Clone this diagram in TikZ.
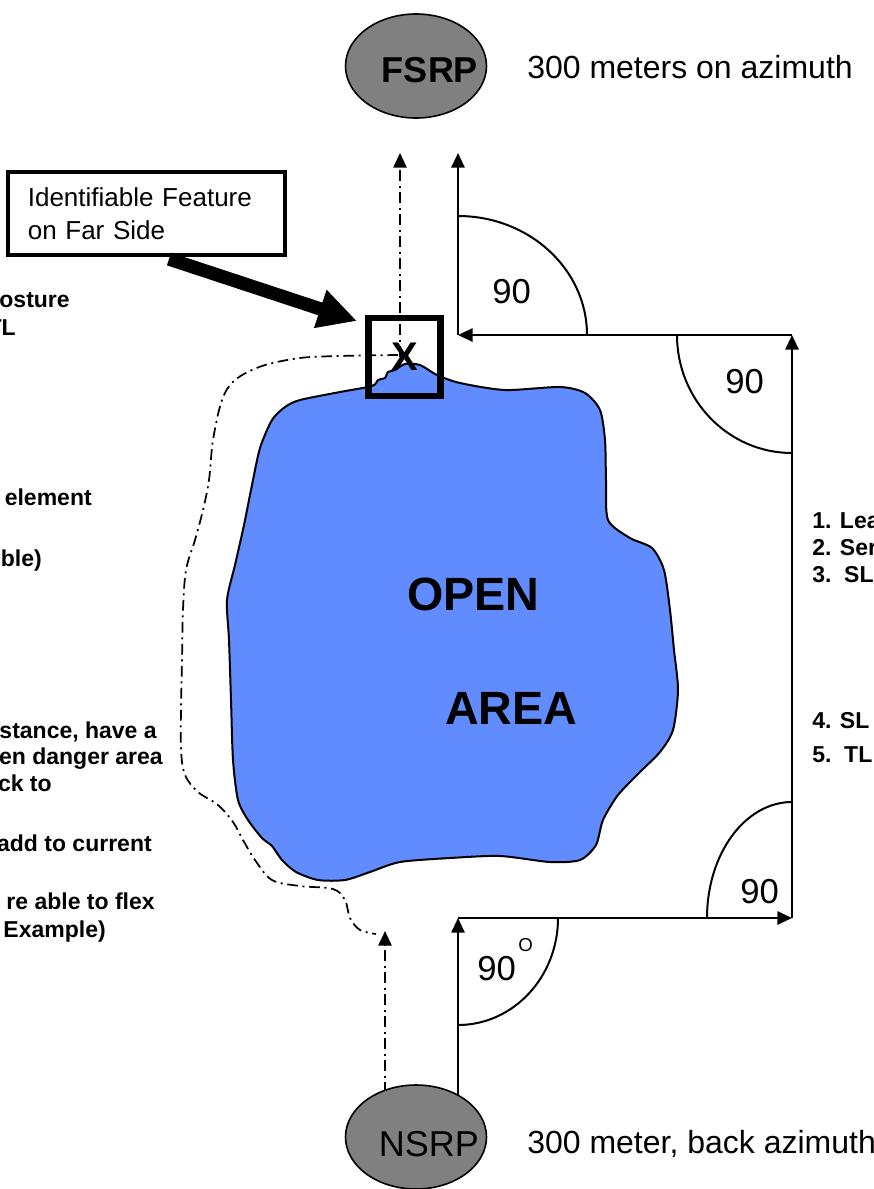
\documentclass[tikz,border=0pt]{standalone}
\usepackage{fontspec}
\setmainfont{Liberation Sans}
\usetikzlibrary{arrows.meta,shapes.geometric,backgrounds}
\definecolor{areablue}{RGB}{96,140,255}
\definecolor{srpgray}{RGB}{128,128,128}
\begin{document}
\begin{tikzpicture}[x=0.75pt,y=-0.75pt,
  line/.style={line width=1.5pt},
  tip/.style={-{Triangle[length=11pt,width=10pt]}},
  dashdot/.style={line width=1.3pt, dash pattern=on 8pt off 3.5pt on 1.5pt off 3.5pt},
  srp/.style={ellipse, draw, line width=1.2pt, fill=srpgray, minimum width=105.75pt, minimum height=78pt, inner sep=0pt},
  lbl/.style={font=\fontsize{24}{28}\selectfont, anchor=base west, inner sep=0pt},
  ninety/.style={font=\fontsize{26}{30}\selectfont, anchor=base west, inner sep=0pt},
  sidel/.style={font=\fontsize{17.25}{20}\selectfont\bfseries, anchor=base east, inner sep=0pt},
  sider/.style={font=\fontsize{17.25}{20}\selectfont\bfseries, anchor=base west, inner sep=0pt},
  big/.style={font=\fontsize{35}{40}\selectfont\bfseries, anchor=base west, inner sep=0pt}
]
\useasboundingbox (0,0) rectangle (874,1189);

% corners and free ends
\coordinate (c1) at (458,335);
\coordinate (c2) at (792,335);
\coordinate (c3) at (792,918);
\coordinate (c4) at (458,918);
\coordinate (soltop) at (458,153);
\coordinate (ddtop) at (400,153);
\coordinate (ddbot) at (385,931);

% open area
\path[fill=areablue, draw, line width=1.5pt] plot[smooth cycle, tension=0.45] coordinates {
 (300,400) (340,392) (372,386) (378,380) (385,378) (388,372) (395,370) (405,364)
 (420,365) (437,375) (460,383) (505,390) (560,387) (585,393) (600,410) (605,440)
 (606,480) (608,520) (630,538) (652,548) (664,570) (670,610) (674,650) (678,690)
 (673,730) (660,752) (640,772) (618,795) (603,820) (596,845) (580,860) (550,862)
 (500,856) (450,858) (400,862) (370,872) (345,880) (318,880) (296,872) (282,860)
 (272,846) (262,838) (248,820) (238,800) (233,760) (231,700) (229,640) (227,600)
 (235,565) (244,525) (252,485) (260,448) (272,420) (285,407)};
\node[big] (open) at (407,610) {OPEN};
\node[big] (area) at (445,724) {AREA};

% dash-dot route round the area
\draw[dashdot] plot[smooth, tension=0.55] coordinates {
 (398,355) (340,356) (300,358) (262,366) (235,380) (222,400) (213,440) (209,480)
 (203,510) (195,540) (186,570) (183,610) (182,660) (181,710) (181,750) (185,775)
 (198,792) (218,805) (233,822) (243,840) (255,860) (272,880) (300,886) (333,889)
 (345,900) (350,918) (360,930) (376,934)};

% feature box
\node[draw, line width=3pt, minimum width=207.75pt, minimum height=62.25pt,
      text width=178pt, inner xsep=15pt, align=left,
      font=\fontsize{19.5}{24.75}\selectfont] (ifbox) at (146.5,213.5)
      {Identifiable Feature\\on Far Side};
\coordinate (thickstart) at (169,259);
\coordinate (thickend) at (357,321);
\node[draw, line width=5pt, minimum width=54pt, minimum height=58.5pt, inner sep=0pt,
      font=\fontsize{30}{32}\selectfont\bfseries] (xbox) at (404.5,357) {X};
\draw[line width=10pt, -{Triangle[length=29pt,width=28pt]}] (thickstart) -- (thickend);

% SRP ellipses
\node[srp] (fsrp) at (416,66) {};
\node[font=\fontsize{27}{30}\selectfont\bfseries, anchor=base, inner sep=0pt] (fsrpt) at (430,82) {FSRP};
\node[lbl] (fsrpl) at (527,78) {300 meters on azimuth};
\node[srp] (nsrp) at (416,1137) {};
\node[font=\fontsize{27}{30}\selectfont, anchor=base, inner sep=0pt] (nsrpt) at (429,1156) {NSRP};
\node[lbl] (nsrpl) at (527,1153) {300 meter, back azimuth};

% route lines
\begin{scope}[on background layer]
\draw[line,tip] (nsrp.center -| c4) -- (c4);
\draw[dashdot,tip] (nsrp.center -| ddbot) -- (ddbot);
\end{scope}
\draw[dashdot,tip] (ddtop |- xbox.center) -- (ddtop);
\draw[line,tip] (c1) -- (soltop);
\draw[line,tip] (c2) -- (c1);
\draw[line,tip] (c3) -- (c2);
\draw[line,tip] (c4) -- (c3);

% angle arcs
\draw[line] (587,335) arc[start angle=0, end angle=-90, x radius=129, y radius=119];
\draw[line] (677,335) arc[start angle=180, end angle=90, x radius=115, y radius=118];
\draw[line] (707,918) arc[start angle=180, end angle=270, x radius=85, y radius=116];
\draw[line] (558,918) arc[start angle=0, end angle=90, x radius=100, y radius=107];
\node[ninety] (a1) at (492,303) {90};
\node[ninety] (a2) at (725,393) {90};
\node[ninety] (a3) at (740,903) {90};
\node[ninety] (a4) at (477,980) {90};
\node[font=\fontsize{14}{15}\selectfont, anchor=base west, inner sep=0pt] (deg) at (518,951) {O};

% cut-off side notes
\node[sidel] (l1) at (70,307) {osture};
\node[sidel] (l2) at (16,335) {TL};
\node[sidel] (l3) at (92,505) {element};
\node[sidel] (l4) at (42,566) {ble)};
\node[sidel] (l5) at (157,738) {stance, have a};
\node[sidel] (l6) at (163,764) {en danger area};
\node[sidel] (l7) at (52,791) {ck to};
\node[sidel] (l8) at (152,851) {add to current};
\node[sidel] (l9) at (155,909) {re able to flex};
\node[sidel] (l10) at (106,937) {Example)};
\node[sider] (r1) at (812,528) {1. Lea};
\node[sider] (r2) at (812,555) {2. Ser};
\node[sider] (r3) at (812,582) {3.\ \ SL};
\node[sider] (r4) at (812,728) {4. SL};
\node[sider] (r5) at (812,762) {5.\ \ TL};
\end{tikzpicture}
\end{document}
